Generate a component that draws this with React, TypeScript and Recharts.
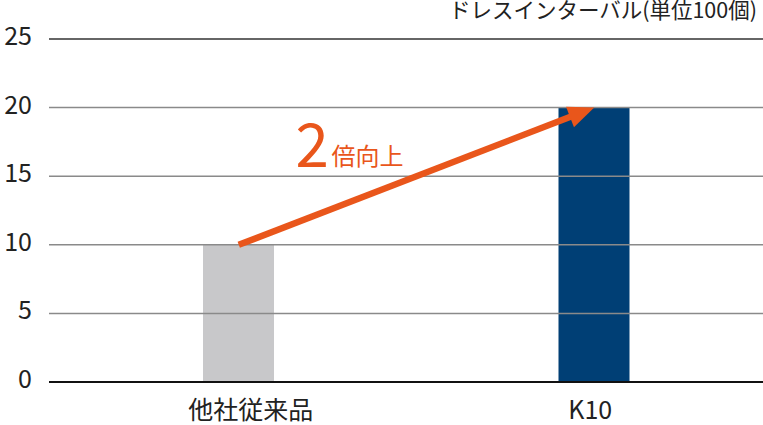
import { BarChart, Bar, XAxis, YAxis, ReferenceLine, Cell } from "recharts";

const categories = ["他社従来品", "K10"];
const intervals = [10, 20];
const yTicks = [0, 5, 10, 15, 20, 25];
const barColors = ["#c8c8ca", "#003f75"];
const unitLabel = "ドレスインターバル(単位100個)";
const gainNumber = "2";
const gainText = "倍向上";

const FONT = '"Noto Sans CJK JP", "Noto Sans", sans-serif';
const ORANGE = "#e9561b";

const data = categories.map((name, i) => ({ name, value: intervals[i] }));

function ValueTick({ x, y, payload }: any) {
  return (
    <text x={x} y={y} dy={6} textAnchor="end" fill="#222" fontSize={25} fontFamily={FONT}>
      {payload.value}
    </text>
  );
}

function CategoryTick({ x, y, payload, index }: any) {
  const shift = index === 0 ? 12 : -4;
  return (
    <text x={x + shift} y={y} dy={17} textAnchor="middle" fill="#222" fontSize={25} fontFamily={FONT}>
      {payload.value}
    </text>
  );
}

// arrow from the top of one bar to the other, with the "2倍向上" note
function GainArrow(props: any) {
  const { x1, y1, x2, y2 } = props;
  const dx = x2 - x1;
  const dy = y2 - y1;
  const len = Math.sqrt(dx * dx + dy * dy);
  const ux = dx / len;
  const uy = dy / len;
  const head = 26;
  const half = 11;
  const bx = x2 - ux * head;
  const by = y2 - uy * head;
  const pts = [
    `${x2},${y2}`,
    `${bx - uy * half},${by + ux * half}`,
    `${bx + uy * half},${by - ux * half}`,
  ].join(" ");
  const mx = (x1 + x2) / 2;
  const my = (y1 + y2) / 2;
  return (
    <g>
      <line x1={x1} y1={y1} x2={bx + ux * 4} y2={by + uy * 4} stroke={ORANGE} strokeWidth={6.5} />
      <polygon points={pts} fill={ORANGE} />
      <text x={mx - 121} y={my - 9} fill={ORANGE} fontSize={60} fontFamily={FONT}>
        {gainNumber}
      </text>
      <text x={mx - 85} y={my - 11} fill={ORANGE} fontSize={24} fontFamily={FONT}>
        {gainText}
      </text>
    </g>
  );
}

export default function App() {
  return (
    <div
      style={{
        position: "absolute",
        left: 0,
        top: 0,
        width: 763,
        height: 425,
        overflow: "hidden",
        background: "#fff",
      }}
    >
      <div
        style={{
          position: "absolute",
          right: 6,
          top: 0,
          fontFamily: FONT,
          fontSize: 21.5,
          lineHeight: "18px",
          color: "#222",
          whiteSpace: "nowrap",
        }}
      >
        {unitLabel}
      </div>
      <BarChart
        width={772}
        height={425}
        data={data}
        margin={{ top: 39, right: 0, left: 0, bottom: 0 }}
      >
        <XAxis
          dataKey="name"
          height={43}
          padding={{ left: 12, right: 0 }}
          axisLine={false}
          tickLine={false}
          tickSize={0}
          tickMargin={20}
          tick={<CategoryTick />}
        />
        <YAxis
          width={49}
          domain={[0, 25]}
          ticks={yTicks}
          axisLine={false}
          tickLine={false}
          tickSize={0}
          tickMargin={17}
          tick={<ValueTick />}
          interval={0}
        />
        <Bar dataKey="value" barSize={71} isAnimationActive={false}>
          {data.map((_, i) => (
            <Cell key={i} fill={barColors[i]} />
          ))}
        </Bar>
        {yTicks.map((t) => (
          <ReferenceLine
            key={t}
            y={t}
            stroke={t === 0 ? "#111" : t === 25 ? "#333" : "#8a8a8a"}
            strokeWidth={t === 0 ? 2 : 1.5}
          />
        ))}
        <ReferenceLine
          segment={[
            { x: categories[0], y: intervals[0] },
            { x: categories[1], y: intervals[1] },
          ]}
          shape={GainArrow}
        />
      </BarChart>
    </div>
  );
}
